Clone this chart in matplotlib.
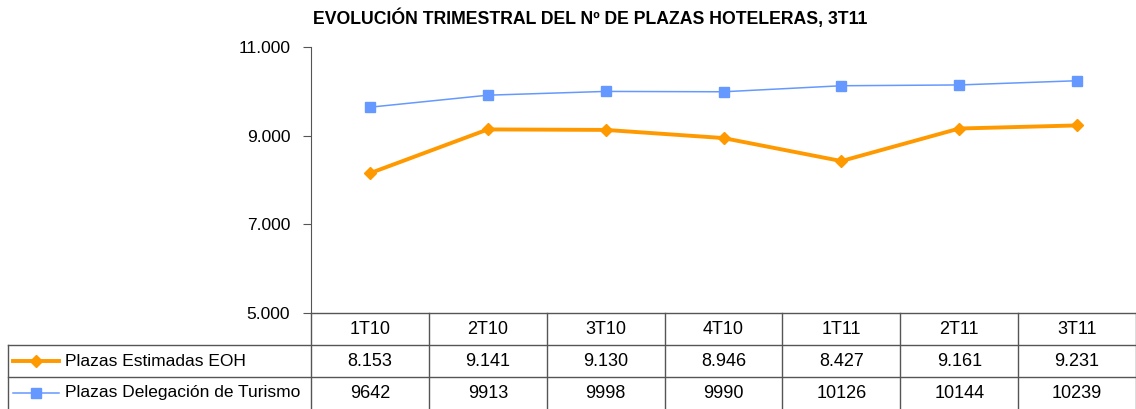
import matplotlib

matplotlib.use("Agg")
import matplotlib.pyplot as plt
from matplotlib.lines import Line2D

plt.rcParams["font.family"] = ["Liberation Sans", "DejaVu Sans"]

# data
quarters = ["1T10", "2T10", "3T10", "4T10", "1T11", "2T11", "3T11"]
plazas_eoh = [8153, 9141, 9130, 8946, 8427, 9161, 9231]
plazas_delegacion = [9642, 9913, 9998, 9990, 10126, 10144, 10239]
series_names = ["Plazas Estimadas EOH", "Plazas Delegación de Turismo"]
y_ticks = [5000, 7000, 9000, 11000]

ORANGE = "#FF9900"
BLUE = "#6699FF"
GRID = "#555555"

W, H = 1136, 409
fig = plt.figure(figsize=(W / 100, H / 100), dpi=100)

# pixel layout
left, right = 311, 1136
top, bottom = 47, 313
row_h = 32
legend_left = 8

ax = fig.add_axes([left / W, (H - bottom) / H, (right - left) / W, (bottom - top) / H])
x = list(range(len(quarters)))
ax.plot(x, plazas_eoh, color=ORANGE, lw=2.8, marker="D", ms=6.5, mec=ORANGE, mfc=ORANGE)
ax.plot(x, plazas_delegacion, color=BLUE, lw=1.1, marker="s", ms=7, mec=BLUE, mfc=BLUE)
ax.set_xlim(-0.5, len(quarters) - 0.5)
ax.set_ylim(5000, 11000)
ax.set_yticks(y_ticks)
ax.set_yticklabels([f"{v:,}".replace(",", ".") for v in y_ticks], fontsize=12.5)
ax.tick_params(axis="y", direction="out", length=6, color=GRID, pad=9)
ax.set_xticks([])
for side in ("top", "right", "bottom"):
    ax.spines[side].set_visible(False)
ax.spines["left"].set_color(GRID)

fig.text(590 / W, 1 - 18 / H, "EVOLUCIÓN TRIMESTRAL DEL Nº DE PLAZAS HOTELERAS, 3T11",
         ha="center", va="center", fontsize=12.7, fontweight="bold")

# data table drawn in pixel coordinates
tab = fig.add_axes([0, 0, 1, 1])
tab.set_xlim(0, W)
tab.set_ylim(H, 0)
tab.axis("off")

col_w = (right - left) / len(quarters)
rows_y = [bottom, bottom + row_h, bottom + 2 * row_h, bottom + 3 * row_h]

kw = dict(color=GRID, lw=1.0)
tab.plot([left, right], [rows_y[0], rows_y[0]], **kw)
for yy in rows_y[1:3]:
    tab.plot([legend_left, right], [yy, yy], **kw)
for i in range(len(quarters) + 1):
    xx = left + i * col_w
    tab.plot([xx, xx], [rows_y[0], H], **kw)
tab.plot([legend_left, legend_left], [rows_y[1], H], **kw)

cell_fs = 13
for i, q in enumerate(quarters):
    cx = left + (i + 0.5) * col_w
    tab.text(cx, (rows_y[0] + rows_y[1]) / 2, q, ha="center", va="center", fontsize=cell_fs)
    tab.text(cx, (rows_y[1] + rows_y[2]) / 2, f"{plazas_eoh[i]:,}".replace(",", "."),
             ha="center", va="center", fontsize=cell_fs)
    tab.text(cx, (rows_y[2] + rows_y[3]) / 2, str(plazas_delegacion[i]),
             ha="center", va="center", fontsize=cell_fs)

styles = [(ORANGE, 2.8, "D", 6.5), (BLUE, 1.1, "s", 7)]
for j, (name, (c, lw, m, ms)) in enumerate(zip(series_names, styles)):
    yc = (rows_y[j + 1] + rows_y[j + 2]) / 2
    tab.add_line(Line2D([13, 59], [yc, yc], color=c, lw=lw))
    tab.plot([36], [yc], marker=m, ms=ms, color=c)
    tab.text(65, yc, name, ha="left", va="center", fontsize=12.5)

fig.savefig("out.png", dpi=100)
